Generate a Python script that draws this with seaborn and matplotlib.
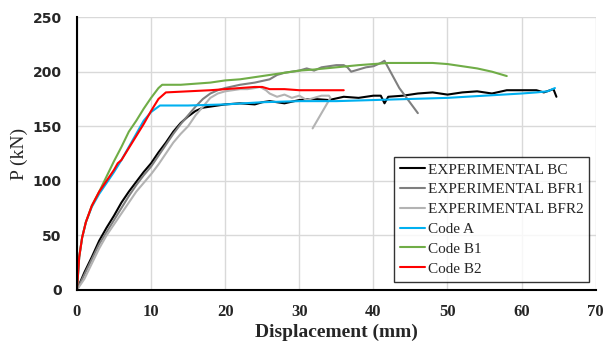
import pandas as pd
import matplotlib.pyplot as plt
from matplotlib.ticker import MultipleLocator
import seaborn as sns

# Valeurs (déplacement en mm, charge en kN)
bc_x = [0, 0.5, 1, 2, 3, 4, 5, 6, 7, 8, 9, 10, 11, 12, 13, 14, 15, 16, 17, 18, 19, 20,
        22, 24, 25, 26, 28, 30, 32, 34, 36, 38, 40, 41, 41.5, 42, 44, 46, 48, 50, 52, 54,
        56, 58, 60, 62, 63, 64.3, 64.7]
bc_y = [0, 8, 16, 30, 45, 57, 68, 80, 90, 99, 108, 116, 126, 135, 145, 153, 159, 164, 167, 168, 169, 170,
        171, 170, 172, 173, 171, 174, 175, 174, 177, 176, 178, 178, 171, 177, 178, 180, 181, 179, 181, 182,
        180, 183, 183, 183, 181, 184, 177]

bfr1_x = [0, 1, 2, 3, 4, 5, 6, 7, 8, 9, 10, 11, 12, 13, 14, 15, 16, 17, 18, 19, 20, 22, 24,
          26, 27, 28, 30, 31, 32, 33, 34, 35, 36, 36.5, 37, 38, 39, 40, 41, 41.5, 43.5, 46]
bfr1_y = [0, 14, 28, 42, 53, 64, 75, 86, 96, 105, 113, 123, 133, 143, 152, 160, 168, 175, 180, 183, 185, 188, 190,
          193, 197, 199, 201, 203, 201, 204, 205, 206, 206, 204, 200, 202, 204, 205, 208, 210, 185, 162]

bfr2_x = [0, 1, 2, 3, 4, 5, 6, 7, 8, 9, 10, 11, 12, 13, 14, 15, 16, 17, 18, 19, 20, 21, 22,
          23, 24, 24.7, 25.5, 26, 27, 28, 29, 30, 31, 32, 33, 34, 34.2, 31.8]
bfr2_y = [0, 10, 24, 38, 50, 60, 70, 80, 90, 98, 106, 115, 125, 135, 143, 150, 160, 168, 176, 180, 182, 183, 184,
          184, 185, 186, 183, 180, 177, 179, 176, 178, 174, 176, 178, 178, 176, 148]

codea_x = [0, 0.3, 0.7, 1.2, 2, 3, 4, 5, 6, 7, 8, 9, 10, 11.2, 15, 20, 25, 30, 35, 40, 45,
           50, 55, 60, 62, 63.5, 64.5]
codea_y = [0, 30, 48, 62, 76, 88, 98, 108, 119, 131, 143, 155, 163, 169, 169, 170, 172, 173, 173, 174, 175,
           176, 178, 180, 181, 182, 185]

codeb1_x = [0, 0.3, 0.7, 1.2, 2, 3, 4, 5, 6, 7, 8, 9, 10, 11, 11.5, 12, 14, 16, 18, 20, 22, 25,
            28, 30, 32, 35, 38, 40, 42, 45, 48, 50, 52, 54, 56, 58]
codeb1_y = [0, 30, 48, 62, 77, 90, 104, 118, 131, 145, 155, 166, 176, 185, 188, 188, 188, 189, 190, 192, 193, 196,
            199, 201, 202, 204, 206, 207, 208, 208, 208, 207, 205, 203, 200, 196]

codeb2_x = [0, 0.3, 0.7, 1.2, 2, 3, 4, 5, 5.5, 6, 7, 8, 9, 10, 11, 12, 15, 18, 20, 22, 24, 25,
            26, 28, 30, 32, 34, 36]
codeb2_y = [0, 30, 48, 62, 77, 90, 100, 110, 116, 119, 130, 141, 152, 164, 175, 181, 182, 183, 184, 185, 186, 186,
            184, 184, 183, 183, 183, 183]

NOMS = ["EXPERIMENTAL BC", "EXPERIMENTAL BFR1", "EXPERIMENTAL BFR2", "Code A", "Code B1", "Code B2"]
COULEURS = ["#000000", "#7F7F7F", "#B3B3B3", "#00B0F0", "#70AD47", "#FF0000"]

series = [(bc_x, bc_y), (bfr1_x, bfr1_y), (bfr2_x, bfr2_y),
          (codea_x, codea_y), (codeb1_x, codeb1_y), (codeb2_x, codeb2_y)]
df = pd.concat(
    [pd.DataFrame({"disp": x, "P": y, "serie": nom}) for nom, (x, y) in zip(NOMS, series)],
    ignore_index=True,
)

sns.set_style("white")
plt.rcParams["font.family"] = ["Liberation Serif", "DejaVu Serif"]

fig = plt.figure(figsize=(6.06, 3.43), dpi=100)
ax = fig.add_axes([0.127, 0.155, 0.856, 0.795])

sns.lineplot(data=df, x="disp", y="P", hue="serie", hue_order=NOMS, palette=COULEURS,
             sort=False, estimator=None, linewidth=1.5, ax=ax)

ax.set_xlim(0, 70)
ax.set_ylim(0, 250)
ax.xaxis.set_major_locator(MultipleLocator(10))
ax.xaxis.set_minor_locator(MultipleLocator(2))
ax.yaxis.set_major_locator(MultipleLocator(50))
ax.yaxis.set_minor_locator(MultipleLocator(10))
ax.grid(which="major", color="#D9D9D9", linewidth=1)
ax.tick_params(which="both", direction="in", color="black", width=1.2)
ax.tick_params(which="major", length=5)
ax.tick_params(which="minor", length=3)
ax.tick_params(axis="x", labelsize=12, pad=10)
ax.tick_params(axis="y", labelsize=10, pad=11)
for lab in ax.get_xticklabels():
    lab.set_fontweight("bold")
for lab in ax.get_yticklabels():
    lab.set_fontweight("bold")
    lab.set_family("DejaVu Sans")

for s in ["top", "right"]:
    ax.spines[s].set_visible(False)
for s in ["left", "bottom"]:
    ax.spines[s].set_color("black")
    ax.spines[s].set_linewidth(1.5)

ax.set_xlabel("Displacement (mm)", fontsize=14, fontweight="bold", labelpad=3)
ax.set_ylabel("P (kN)", fontsize=14, labelpad=3)

leg = ax.legend(loc="lower right", bbox_to_anchor=(0.988, 0.03), borderaxespad=0,
                fontsize=11, frameon=True, fancybox=False, edgecolor="black",
                handlelength=1.6, handletextpad=0.2, labelspacing=0.4, borderpad=0.4, title=None)
leg.get_frame().set_linewidth(1)

fig.savefig("out.png", dpi=100)
